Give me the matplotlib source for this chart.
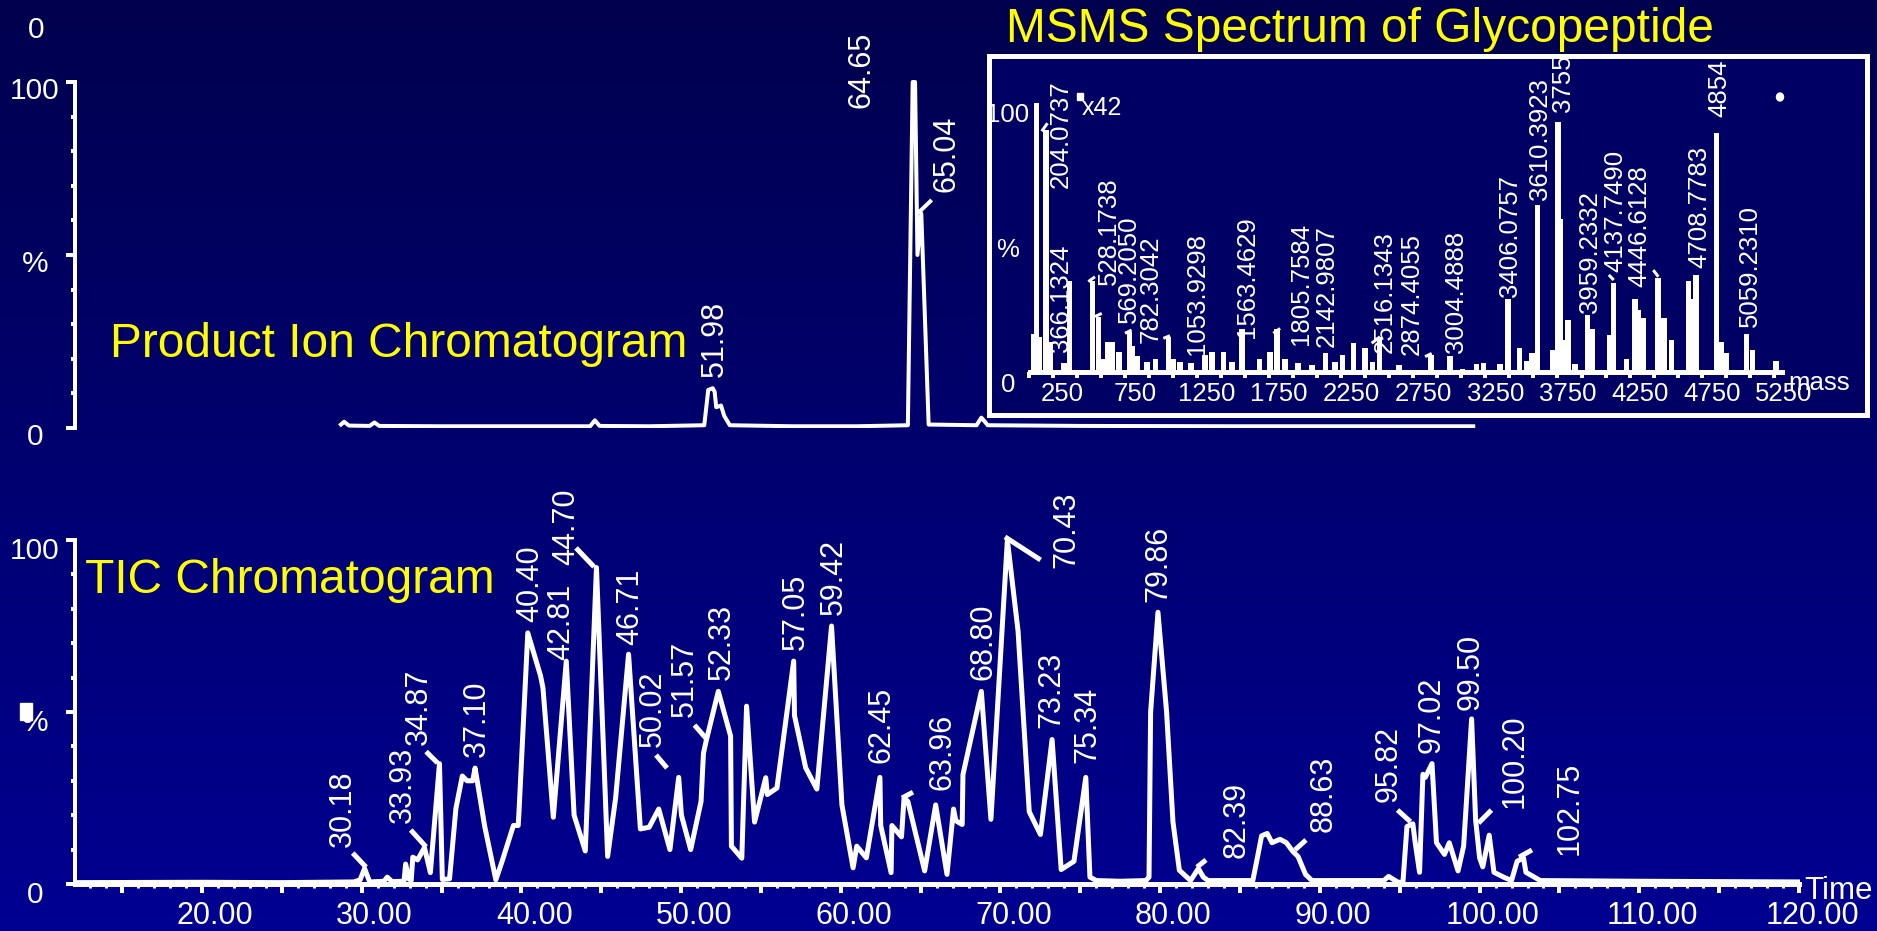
import numpy as np
import matplotlib
matplotlib.use("Agg")
import matplotlib.pyplot as plt
from matplotlib.transforms import ScaledTranslation
from matplotlib.patches import Rectangle, Ellipse
from matplotlib.ticker import FixedLocator

plt.rcParams['font.family'] = ['Liberation Sans', 'DejaVu Sans']

# ---------------- data ----------------
# Product ion chromatogram: retention time (min) and relative intensity (%)
pic_time = [28.7, 28.9, 29.2, 30.5, 30.8, 31.1, 35.0, 40.0, 44.3, 44.6, 44.9, 48.0,
            51.45, 51.7, 51.98, 52.1, 52.2, 52.5, 52.7, 53.05, 57.0, 61.0,
            64.2, 64.5, 64.65, 64.8, 65.04, 65.5, 68.5, 68.8, 68.95, 69.2,
            75.0, 85.0, 99.6]
pic_pct = [1.0, 1.8, 0.7, 0.6, 1.6, 0.6, 0.5, 0.5, 0.5, 2.2, 0.6, 0.5,
           0.8, 11.0, 11.5, 10.5, 6.0, 6.5, 3.5, 0.8, 0.5, 0.5,
           0.8, 100.0, 100.0, 50.0, 62.0, 1.0, 0.8, 3.0, 2.2, 0.8,
           0.6, 0.5, 0.5]
pic_peak_labels = ["51.98", "64.65", "65.04"]

# Total ion current chromatogram
tic_time = [12.1, 20.0, 25.0, 29.5, 29.9, 30.18, 30.5, 31.4, 31.6, 31.9, 32.65, 32.75,
            32.95, 33.1, 33.2, 33.5, 33.93, 34.3, 34.87, 35.05, 35.5, 35.9, 36.3, 36.6,
            36.95, 37.10, 37.7, 38.4, 38.8, 39.5, 39.8, 39.85, 40.40, 41.2, 41.35, 42.0,
            42.81, 43.3, 44.0, 44.70, 45.4, 45.9, 46.71, 47.45, 48.0, 48.6, 49.3, 49.85,
            50.02, 50.6, 51.25, 51.4, 51.57, 52.33, 53.1, 53.15, 53.8, 54.1, 54.6, 55.3,
            55.4, 56.0, 57.05, 57.1, 57.8, 58.5, 59.42, 60.07, 60.77, 61.0, 61.6, 62.45,
            62.5, 63.15, 63.2, 63.8, 63.96, 64.2, 65.25, 65.94, 66.65, 67.06, 67.2, 67.6,
            67.65, 68.80, 69.4, 70.43, 71.1, 71.8, 72.5, 73.23, 73.8, 74.6, 75.34, 75.6,
            76.0, 77.5, 79.1, 79.3, 79.4, 79.86, 80.4, 80.8, 81.2, 81.9, 82.39, 82.7,
            83.0, 85.8, 86.1, 86.35, 86.7, 87.0, 87.5, 87.9, 88.3, 88.63, 89.1, 89.5,
            94.0, 94.3, 94.9, 95.2, 95.45, 95.82, 95.95, 96.24, 96.45, 96.6, 97.02, 97.3,
            97.8, 98.1, 98.65, 99.0, 99.50, 99.75, 100.0, 100.2, 100.6, 100.9, 101.5, 102.0,
            102.35, 102.75, 102.9, 103.8, 110.0, 120.0]
tic_pct = [0.4, 0.5, 0.4, 0.6, 1.2, 4.5, 0.6, 0.8, 2.0, 0.7, 0.8, 5.8,
           1.5, 1.0, 7.8, 7.0, 10.6, 3.3, 35.0, 1.3, 1.5, 22.0, 31.4, 30.0,
           30.0, 33.7, 16.8, 1.2, 6.7, 17.0, 17.0, 21.0, 73.0, 60.5, 57.0, 19.4,
           64.8, 20.0, 9.6, 92.0, 8.0, 25.0, 66.8, 16.0, 16.5, 21.8, 10.0, 31.0,
           20.0, 10.0, 24.0, 38.0, 41.6, 56.0, 43.0, 11.0, 7.5, 51.7, 18.0, 30.9,
           26.0, 27.9, 64.8, 49.0, 33.8, 27.6, 75.0, 23.0, 4.7, 11.0, 7.6, 31.0,
           17.0, 3.3, 17.0, 13.7, 25.0, 24.0, 3.8, 23.0, 2.8, 21.8, 18.4, 17.3,
           31.8, 56.0, 18.8, 100.0, 73.5, 21.0, 14.4, 42.0, 4.2, 6.6, 31.0, 2.0,
           1.0, 0.8, 1.0, 2.0, 50.0, 79.0, 50.0, 18.0, 4.0, 1.0, 4.5, 2.0,
           1.0, 1.0, 8.0, 14.0, 14.7, 12.0, 13.0, 12.0, 9.5, 8.0, 2.8, 1.0,
           1.0, 2.2, 0.5, 0.5, 16.7, 17.5, 12.6, 3.4, 31.9, 31.0, 35.0, 12.0,
           8.6, 12.0, 3.8, 11.0, 48.0, 18.7, 7.6, 5.0, 14.2, 3.4, 2.0, 1.0,
           6.6, 7.6, 3.4, 1.0, 0.8, 0.6]
tic_peak_labels = ["30.18", "33.93", "34.87", "37.10", "40.40", "42.81", "44.70", "46.71",
                   "50.02", "51.57", "52.33", "57.05", "59.42", "62.45", "63.96", "68.80",
                   "70.43", "73.23", "75.34", "79.86", "82.39", "88.63", "95.82", "97.02",
                   "99.50", "100.20", "102.75"]

# MS/MS spectrum of the glycopeptide: m/z and relative intensity (%)
spec_mz = [120, 138.06, 160, 204.07, 232, 329, 366.13, 528.17, 569.21, 600, 630, 665,
           710, 782.30, 805, 835, 905, 965, 1053.93, 1085, 1135, 1210, 1305, 1355,
           1435, 1495, 1563.46, 1685, 1757, 1805.76, 1860, 1950, 2050, 2142.98, 2208, 2260,
           2335, 2416, 2467, 2516.13, 2652, 2874.41, 3004.49, 3090, 3190, 3236, 3351, 3406.08,
           3486, 3536, 3575, 3610.39, 3717, 3755.0, 3772, 3795, 3822, 3871, 3959.23, 3990,
           4110, 4137.75, 4229, 4287, 4310, 4345, 4446.61, 4488, 4542, 4657, 4687, 4708.78,
           4854.0, 4888, 4918, 5059.23, 5103, 5265]
spec_int = [14, 100, 13, 90, 11, 3.2, 34, 34, 20.6, 5, 11, 11,
            7.6, 15, 9.5, 6, 3.8, 5, 13, 5, 3.8, 3.2, 6.3, 7.6,
            7.6, 3.8, 16, 5, 7.6, 16, 5, 3.2, 2.6, 7, 3.8, 6.3,
            10.7, 9, 3.8, 13, 2.6, 6.3, 6, 1, 3, 3.2, 3, 27.3,
            9, 4, 7, 62, 8.2, 93, 57, 12, 19.3, 3, 21.2, 16,
            13.8, 33, 5, 27, 23, 20, 35, 20, 12, 34, 27, 36,
            89, 11, 7, 14, 8, 4]
spec_peak_labels = ["204.0737", "366.1324", "528.1738", "569.2050", "782.3042", "1053.9298",
                    "1563.4629", "1805.7584", "2142.9807", "2516.1343", "2874.4055",
                    "3004.4888", "3406.0757", "3610.3923", "3755", "3959.2332", "4137.7490",
                    "4446.6128", "4708.7783", "4854", "5059.2310"]

time_ticks = [20, 30, 40, 50, 60, 70, 80, 90, 100, 110, 120]
time_tick_labels = ["20.00", "30.00", "40.00", "50.00", "60.00", "70.00",
                    "80.00", "90.00", "100.00", "110.00", "120.00"]
mass_ticks = [250, 750, 1250, 1750, 2250, 2750, 3250, 3750, 4250, 4750, 5250]
mass_tick_labels = ["250", "750", "1250", "1750", "2250", "2750", "3250",
                    "3750", "4250", "4750", "5250"]
pct_ticks = [0, 50, 100]
pct_tick_labels = ["0", "%", "100"]

# ---------------- label layout (anchor of each rotated label, data units) ----------------
pic_label_pos = {"51.98": (52.60, 14.8), "64.65": (61.77, 92.5), "65.04": (67.15, 68.3)}
pic_leaders = {"65.04": ((64.83, 62.1), (65.69, 65.9))}

tic_label_pos = {
    "30.18": (29.33, 10.8), "33.93": (33.06, 17.7), "34.87": (34.09, 40.4),
    "37.10": (37.72, 36.9), "40.40": (41.08, 76.2), "42.81": (42.98, 65.1),
    "44.70": (43.29, 92.7), "46.71": (47.30, 69.5), "50.02": (48.72, 39.9),
    "51.57": (50.75, 48.6), "52.33": (53.06, 59.3), "57.05": (57.70, 68.0),
    "59.42": (60.08, 78.2), "62.45": (63.06, 35.2), "63.96": (66.84, 27.3),
    "68.80": (69.41, 59.3), "70.43": (74.65, 91.9), "73.23": (73.66, 45.3),
    "75.34": (75.92, 35.2), "79.86": (80.36, 82.1), "82.39": (85.28, 7.6),
    "88.63": (90.73, 15.2), "95.82": (94.79, 23.9), "97.02": (97.51, 38.1),
    "99.50": (99.96, 50.6), "100.20": (102.69, 22.1), "102.75": (106.16, 8.4)}
tic_leaders = {
    "30.18": ((29.44, 9.0), (30.27, 4.9)), "33.93": ((33.07, 15.7), (34.03, 10.8)),
    "34.87": ((34.03, 38.5), (34.75, 35.2)), "44.70": ((43.42, 97.7), (44.55, 92.2)),
    "50.02": ((48.43, 37.5), (49.12, 33.7)), "51.57": ((50.84, 46.2), (51.55, 42.4)),
    "63.96": ((63.83, 25.0), (64.52, 26.7)), "70.43": ((70.28, 100.9), (72.51, 94.2)),
    "82.39": ((82.30, 4.9), (82.87, 7.0)), "88.63": ((88.44, 9.9), (89.13, 12.8)),
    "95.82": ((94.86, 21.5), (95.67, 18.1)), "100.20": ((99.93, 17.7), (100.74, 21.5)),
    "102.75": ((102.47, 7.8), (103.28, 9.9))}

spec_label_pos = {
    "204.0737": (358, 68.4), "366.1324": (354, 7.5), "528.1738": (689, 32.3),
    "569.2050": (828, 18.2), "782.3042": (977, 10.8), "1053.9298": (1301, 6.3),
    "1563.4629": (1643, 12.6), "1805.7584": (2022, 10.0), "2142.9807": (2202, 9.4),
    "2516.1343": (2599, 7.1), "2874.4055": (2791, 6.3), "3004.4888": (3092, 7.1),
    "3406.0757": (3466, 28.0), "3610.3923": (3674, 63.9), "3755": (3836, 96.8),
    "3959.2332": (4027, 21.9), "4137.7490": (4201, 37.3), "4446.6128": (4363, 31.7),
    "4708.7783": (4779, 38.7), "4854": (4918, 94.9), "5059.2310": (5130, 16.8)}
spec_leaders = {
    "204.0737": ((175, 89.5), (215, 92.5)), "528.1738": ((498, 33.6), (544, 35.4)),
    "569.2050": ((544, 20.6), (591, 21.8)), "782.3042": ((752, 14.4), (798, 15.6)),
    "1053.9298": ((1018, 12.5), (1064, 13.5)), "1805.7584": ((1780, 14.4), (1827, 16.2)),
    "2516.1343": ((2462, 10.7), (2520, 13.1)), "2874.4055": ((2832, 5.7), (2878, 6.9)),
    "4137.7490": ((4106, 36.1), (4140, 34.2)), "4446.6128": ((4414, 37.9), (4449, 35.4))}

# ---------------- figure ----------------
W, H, DPI = 1877, 931, 100
PT = 72.0 / DPI
WHITE = 'white'
YELLOW = '#ffff00'

fig = plt.figure(figsize=(W / DPI, H / DPI), dpi=DPI)


def px_axes(left, right, top, bottom, **kw):
    return fig.add_axes([left / W, 1 - bottom / H, (right - left) / W, (bottom - top) / H], **kw)


def px_shift(dx, dy):
    return ScaledTranslation(dx / DPI, dy / DPI, fig.dpi_scale_trans)


def fig_xy(x, y):
    return x / W, 1 - y / H


# slide background: vertical navy gradient
bg = fig.add_axes([0, 0, 1, 1], zorder=-10)
grad = np.zeros((256, 1, 3))
grad[:, 0, 2] = np.linspace(78, 146, 256) / 255
bg.imshow(grad, aspect='auto', extent=(0, 1, 0, 1), interpolation='bilinear')
bg.set_axis_off()

# time axis scale shared by both chromatograms (pixels)
T_REF_PX, T_REF, PX_PER_MIN = 202, 20.0, 15.97


def t_at(px):
    return T_REF + (px - T_REF_PX) / PX_PER_MIN


def chrom_axes(top, bottom, px_per_pct):
    ax = px_axes(75, 1800, top, bottom)
    ax.set_xlim(t_at(75), t_at(1800))
    ax.set_ylim(0, (bottom - top) / px_per_pct)
    ax.patch.set_visible(False)
    for s in ('top', 'right'):
        ax.spines[s].set_visible(False)
    ax.spines['left'].set_bounds(0, 100)
    ax.spines['left'].set_color(WHITE)
    ax.spines['left'].set_linewidth(4 * PT)
    ax.set_yticks(pct_ticks, pct_tick_labels)
    ax.yaxis.set_minor_locator(FixedLocator([10, 20, 30, 40, 60, 70, 80, 90]))
    ax.tick_params(axis='y', which='major', direction='out', length=9 * PT, width=4 * PT,
                   colors=WHITE, labelsize=21.5, pad=(75 - 9 - 35) * PT)
    ax.tick_params(axis='y', which='minor', direction='out', length=4 * PT, width=4 * PT,
                   colors=WHITE)
    return ax


def rotated_labels(ax, labels, positions, leaders, size, lw):
    for s in labels:
        x, y = positions[s]
        ax.text(x, y, s, rotation=90, rotation_mode='anchor', ha='left', va='baseline',
                fontsize=size, color=WHITE, zorder=5)
        if s in leaders:
            (x0, y0), (x1, y1) = leaders[s]
            ax.plot([x0, x1], [y0, y1], color=WHITE, lw=lw, solid_capstyle='butt', zorder=5)


# ---- product ion chromatogram (upper) ----
ax_pic = chrom_axes(60, 428, 3.46)
ax_pic.spines['bottom'].set_visible(False)
ax_pic.tick_params(axis='x', which='both', bottom=False, labelbottom=False)
ax_pic.plot(pic_time, pic_pct, color=WHITE, lw=4 * PT, solid_joinstyle='round')
rotated_labels(ax_pic, pic_peak_labels, pic_label_pos, pic_leaders, 22, 4 * PT)
for lab in ax_pic.get_yticklabels():
    lab.set_ha('center')
    lab.set_transform(lab.get_transform() + px_shift(0, -6))

# ---- TIC chromatogram (lower) ----
ax_tic = chrom_axes(520, 884, 3.44)
ax_tic.spines['bottom'].set_color(WHITE)
ax_tic.spines['bottom'].set_linewidth(5 * PT)
ax_tic.spines['bottom'].set_bounds(t_at(75), 120)
major_t = np.arange(15, 121, 5)
tick_text = dict(zip(time_ticks, time_tick_labels))
ax_tic.set_xticks(major_t, [tick_text.get(int(v), '') for v in major_t])
ax_tic.xaxis.set_minor_locator(FixedLocator(np.arange(13, 121, 1)))
ax_tic.tick_params(axis='x', which='major', direction='out', length=9 * PT, width=4 * PT,
                   colors=WHITE, labelsize=22, pad=8 * PT)
ax_tic.tick_params(axis='x', which='minor', direction='out', length=4 * PT, width=3 * PT,
                   colors=WHITE)
ax_tic.plot(tic_time, tic_pct, color=WHITE, lw=5 * PT, solid_joinstyle='round')
rotated_labels(ax_tic, tic_peak_labels, tic_label_pos, tic_leaders, 22, 5 * PT)
for lab in ax_tic.get_xticklabels():
    lab.set_transform(lab.get_transform() + px_shift(13, 0))
for lab in ax_tic.get_yticklabels():
    lab.set_ha('center')
    lab.set_transform(lab.get_transform() + px_shift(0, -8))

# ---- MS/MS spectrum inset ----
ax_frame = px_axes(989, 1867, 56, 415)
ax_frame.set_facecolor((0, 0, 100 / 255))
for s in ax_frame.spines.values():
    s.set_color(WHITE)
    s.set_linewidth(5 * PT)
ax_frame.set_xticks([])
ax_frame.set_yticks([])

M_ZERO_PX, PX_PER_DA = 1016.5, 0.14426


def m_at(px):
    return (px - M_ZERO_PX) / PX_PER_DA


ax_ms = px_axes(1025, 1860, 80, 372)
ax_ms.set_xlim(m_at(1025), m_at(1860))
ax_ms.set_ylim(0, (372 - 80) / 2.69)
ax_ms.patch.set_visible(False)
for s in ('top', 'right', 'left'):
    ax_ms.spines[s].set_visible(False)
ax_ms.spines['bottom'].set_color(WHITE)
ax_ms.spines['bottom'].set_linewidth(5 * PT)
ax_ms.spines['bottom'].set_bounds(m_at(1030), m_at(1782))
ax_ms.bar(spec_mz, spec_int, width=38, color=WHITE, linewidth=0)
ax_ms.set_xticks(mass_ticks, mass_tick_labels)
ax_ms.xaxis.set_minor_locator(FixedLocator(np.arange(250 - 500 / 3, 5300, 500 / 3)))
ax_ms.tick_params(axis='x', which='both', direction='out', length=6 * PT, width=4 * PT,
                  colors=WHITE, labelsize=18.5, pad=4 * PT)
ax_ms.set_yticks(pct_ticks, pct_tick_labels)
ax_ms.tick_params(axis='y', length=0, colors=WHITE, labelsize=18.5, pad=(1025 - 1008) * PT)
for lab in ax_ms.get_xticklabels():
    lab.set_transform(lab.get_transform() + px_shift(10, 0))
for lab in ax_ms.get_yticklabels():
    lab.set_ha('center')
    lab.set_transform(lab.get_transform() + px_shift(0, -10))
rotated_labels(ax_ms, spec_peak_labels, spec_label_pos, spec_leaders, 18.5, 3 * PT)

# small markers of the inset (magnification flag and end marker)
fig.add_artist(Rectangle(fig_xy(1077, 100), 6 / W, 7 / H, transform=fig.transFigure,
                         color=WHITE, zorder=6))
fig.add_artist(Ellipse(fig_xy(1780, 97), 7 / W, 8 / H, transform=fig.transFigure,
                       color=WHITE, zorder=6))
fig.text(*fig_xy(1082, 115), "x42", fontsize=18, color=WHITE, va='baseline', ha='left')
fig.text(*fig_xy(1788, 390), "mass", fontsize=18.5, color=WHITE, va='baseline', ha='left')

# axis words and stray marks
fig.text(*fig_xy(1804, 899), "Time", fontsize=22.5, color=WHITE, va='baseline', ha='left')
fig.text(*fig_xy(36, 30), "0", fontsize=21.5, color=WHITE, va='center', ha='center')
fig.add_artist(Rectangle(fig_xy(20, 720), 12 / W, 17 / H, transform=fig.transFigure,
                         color=WHITE, zorder=6))

# panel titles
fig.text(*fig_xy(1006, 42), "MSMS Spectrum of Glycopeptide", fontsize=34.5, color=YELLOW,
         va='baseline', ha='left')
fig.text(*fig_xy(110, 357), "Product Ion Chromatogram", fontsize=34.5, color=YELLOW,
         va='baseline', ha='left')
fig.text(*fig_xy(85, 593), "TIC Chromatogram", fontsize=34.5, color=YELLOW,
         va='baseline', ha='left')

fig.savefig("out.png", dpi=DPI, facecolor=(0, 0, 78 / 255))
